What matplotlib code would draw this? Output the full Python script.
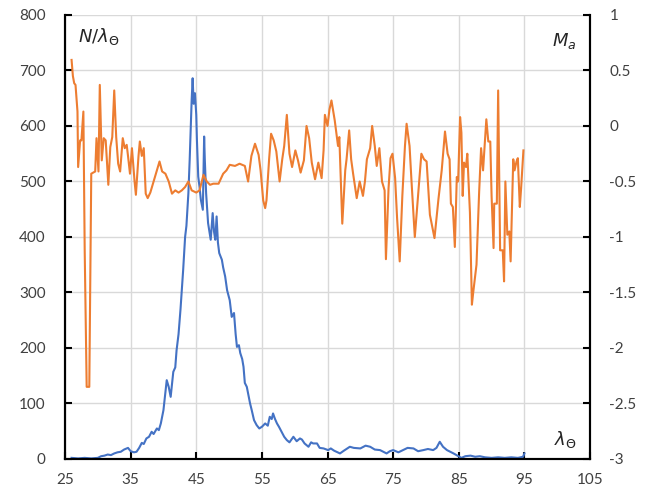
import matplotlib
matplotlib.use('Agg')
import matplotlib.pyplot as plt

plt.rcParams['font.family'] = ['Lato', 'DejaVu Sans']
plt.rcParams['mathtext.fontset'] = 'custom'
plt.rcParams['mathtext.it'] = 'DejaVu Sans:italic'
plt.rcParams['mathtext.rm'] = 'DejaVu Sans'

# N/lambda distribution (left axis)
lam_n = [26.0, 27.0, 28.0, 29.0, 30.0, 30.5, 31.0, 31.5, 32.0, 32.5, 33.0, 33.5, 34.0, 34.6, 35.0,
         35.5, 35.9, 36.3, 36.7, 37.0, 37.4, 37.8, 38.2, 38.5, 39.0, 39.3, 39.6, 40.0, 40.3, 40.5,
         40.8, 41.1, 41.3, 41.5, 41.8, 42.0, 42.3, 42.6, 42.8, 43.0, 43.3, 43.5, 43.8, 44.0, 44.3,
         44.45, 44.6, 44.8, 45.0, 45.1, 45.3, 45.5, 45.7, 46.0, 46.2, 46.3, 46.5, 46.8, 47.0, 47.2,
         47.5, 47.7, 47.9, 48.1, 48.3, 48.5, 48.9, 49.1, 49.4, 49.7, 50.1, 50.4, 50.75, 51.0, 51.2,
         51.5, 51.7, 52.0, 52.2, 52.4, 52.7, 52.9, 53.2, 53.45, 53.8, 54.2, 54.6, 55.0, 55.5, 55.9,
         56.2, 56.5, 56.7, 57.0, 57.3, 57.6, 58.0, 58.4, 58.8, 59.2, 59.8, 60.3, 60.8, 61.1, 61.5,
         62.1, 62.5, 62.8, 63.4, 63.8, 64.4, 65.1, 65.5, 66.0, 66.9, 67.5, 68.4, 69.0, 70.0, 70.8,
         71.5, 72.2, 73.0, 74.0, 74.5, 75.0, 75.8, 76.5, 77.2, 78.1, 78.8, 79.6, 80.3, 81.1, 81.6,
         82.1, 82.6, 83.2, 84.2, 84.8, 85.4, 86.0, 86.8, 87.5, 88.2, 89.0, 90.0, 91.0, 92.0, 93.0,
         94.0, 94.8, 95.0]
n_vals = [2, 1, 2, 1, 2, 5, 6, 8, 7, 10, 12, 13, 17, 20, 14,
          12, 13, 20, 29, 27, 37, 40, 49, 45, 55, 52, 64, 88, 120, 142,
          130, 112, 135, 157, 165, 196, 225, 270, 304, 340, 400, 420, 479, 540, 647,
          686, 640, 659, 620, 575, 509, 490, 467, 449, 581, 540, 479, 425, 410, 395,
          443, 410, 395, 437, 390, 371, 359, 345, 329, 304, 286, 256, 263, 225, 202,
          205, 191, 180, 166, 137, 130, 118, 100, 88, 70, 61, 55, 58, 64, 60,
          76, 72, 82, 72, 64, 58, 49, 40, 34, 30, 40, 32, 37, 35, 28,
          22, 30, 28, 28, 20, 19, 16, 19, 15, 10, 15, 22, 20, 19, 24,
          22, 17, 16, 10, 14, 16, 12, 16, 20, 19, 14, 16, 18, 16, 20,
          31, 22, 16, 10, 6, 2, 5, 6, 4, 5, 3, 2, 3, 2, 3,
          2, 4, 10]

# M_a (right axis)
lam_m = [26.0, 26.2, 26.4, 26.6, 26.9, 27.0, 27.3, 27.5, 27.8, 28.0, 28.3, 28.7, 29.0, 29.6, 29.8,
         30.1, 30.3, 30.6, 30.9, 31.2, 31.6, 31.9, 32.2, 32.5, 32.8, 33.1, 33.4, 33.8, 34.1, 34.4,
         34.6, 34.9, 35.2, 35.6, 35.8, 36.2, 36.4, 36.7, 37.0, 37.3, 37.6, 38.0, 38.5, 39.0, 39.4,
         39.8, 40.3, 40.8, 41.3, 41.8, 42.3, 42.8, 43.3, 43.8, 44.3, 45.0, 45.5, 46.1, 46.6, 47.1,
         47.6, 48.4, 49.1, 49.6, 50.1, 50.9, 51.6, 52.4, 52.9, 53.4, 53.95, 54.5, 54.8, 55.2, 55.5,
         55.7, 56.1, 56.4, 56.8, 57.2, 57.7, 58.1, 58.4, 58.8, 59.2, 59.6, 60.1, 60.5, 60.9, 61.4,
         61.8, 62.2, 62.6, 63.1, 63.6, 64.1, 64.4, 64.6, 65.0, 65.3, 65.6, 66.1, 66.6, 66.8, 67.25,
         67.7, 67.9, 68.3, 68.6, 68.9, 69.45, 69.9, 70.4, 70.7, 71.0, 71.5, 71.8, 72.2, 72.5, 72.9,
         73.3, 73.7, 73.9, 74.3, 74.6, 74.9, 75.3, 75.6, 76.0, 76.4, 76.8, 77.05, 77.5, 77.8, 78.3,
         78.8, 79.3, 79.7, 80.1, 80.6, 81.3, 81.9, 82.4, 82.9, 83.3, 83.6, 83.8, 84.1, 84.4, 84.7,
         84.9, 85.2, 85.4, 85.6, 85.8, 86.1, 86.3, 86.7, 87.0, 87.2, 87.7, 88.1, 88.4, 88.7, 89.2,
         89.5, 89.8, 90.0, 90.3, 90.4, 90.8, 91.0, 91.3, 91.7, 91.9, 92.1, 92.4, 92.7, 92.9, 93.0,
         93.3, 93.5, 93.8, 94.0, 94.3, 94.5, 94.85]
m_vals = [0.595, 0.45, 0.385, 0.37, 0.13, -0.37, -0.13, -0.13, 0.13, -1.12, -2.35, -2.35, -0.43, -0.41, -0.11,
          -0.41, 0.37, -0.31, -0.11, -0.13, -0.53, -0.19, -0.1, 0.32, -0.1, -0.34, -0.41, -0.11, -0.2, -0.17,
          -0.27, -0.43, -0.2, -0.5, -0.62, -0.27, -0.14, -0.27, -0.2, -0.61, -0.65, -0.6, -0.5, -0.4, -0.32,
          -0.41, -0.43, -0.5, -0.61, -0.58, -0.6, -0.58, -0.55, -0.5, -0.58, -0.6, -0.58, -0.44, -0.5, -0.53,
          -0.52, -0.52, -0.43, -0.4, -0.35, -0.36, -0.34, -0.36, -0.5, -0.27, -0.16, -0.26, -0.4, -0.67, -0.74,
          -0.67, -0.3, -0.07, -0.13, -0.23, -0.5, -0.3, -0.18, 0.1, -0.25, -0.37, -0.22, -0.31, -0.42, -0.31,
          0.0, -0.11, -0.33, -0.48, -0.33, -0.47, -0.22, 0.1, 0.0, 0.15, 0.23, 0.05, -0.18, -0.1, -0.88,
          -0.4, -0.3, -0.04, -0.3, -0.43, -0.65, -0.5, -0.63, -0.5, -0.3, -0.2, 0.0, -0.18, -0.36, -0.2,
          -0.5, -0.58, -1.2, -0.56, -0.29, -0.25, -0.47, -0.83, -1.22, -0.63, -0.18, 0.02, -0.18, -0.5, -1.0,
          -0.63, -0.25, -0.3, -0.32, -0.8, -1.01, -0.66, -0.4, -0.05, -0.25, -0.3, -0.7, -0.73, -1.09, -0.46,
          -0.5, 0.08, -0.06, -0.63, -0.33, -0.37, -0.25, -0.78, -1.61, -1.5, -1.25, -0.6, -0.2, -0.4, 0.06,
          -0.14, -0.14, -0.63, -1.1, -0.7, -0.7, 0.32, -1.12, -1.12, -1.4, -0.5, -0.98, -0.95, -1.22, -0.98,
          -0.3, -0.4, -0.32, -0.29, -0.73, -0.56, -0.22]

x_ticks = [25, 35, 45, 55, 65, 75, 85, 95, 105]
y_left_ticks = [0, 100, 200, 300, 400, 500, 600, 700, 800]
y_right_ticks = [-3, -2.5, -2, -1.5, -1, -0.5, 0, 0.5, 1]
y_right_labels = ['-3', '-2.5', '-2', '-1.5', '-1', '-0.5', '0', '0.5', '1']

blue = '#4472C4'
orange = '#ED7D31'

fig = plt.figure(figsize=(6.58, 4.99), dpi=100)
ax = fig.add_axes([0.0988, 0.0802, 0.7979, 0.8898])
ax2 = ax.twinx()

ax.plot(lam_n, n_vals, color=blue, lw=1.5)
ax2.plot(lam_m, m_vals, color=orange, lw=1.5)

ax.set_xlim(25, 105)
ax.set_ylim(0, 800)
ax2.set_ylim(-3, 1)
ax.set_xticks(x_ticks)
ax.set_yticks(y_left_ticks)
ax2.set_yticks(y_right_ticks)
ax2.set_yticklabels(y_right_labels)

ax.grid(True, color='#D9D9D9', lw=1.0)
ax.set_axisbelow(True)

for a in (ax, ax2):
    a.spines['top'].set_visible(False)
    for s in ('left', 'right', 'bottom'):
        a.spines[s].set_linewidth(1.5)
        a.spines[s].set_color('black')
    a.tick_params(direction='in', length=5, width=1.5, labelsize=11, colors='black',
                  labelcolor='#404040')
ax.tick_params(axis='y', pad=14)
ax.tick_params(axis='x', pad=10)
ax2.tick_params(axis='y', pad=14)

ax.text(0.025, 0.975, r'$N/\lambda_{\mathit{\Theta}}$', transform=ax.transAxes,
        fontsize=13, ha='left', va='top', color='#262626')
ax.text(0.975, 0.965, r'$M_a$', transform=ax.transAxes,
        fontsize=13, ha='right', va='top', color='#262626')
ax.text(0.975, 0.02, r'$\lambda_{\mathit{\Theta}}$', transform=ax.transAxes,
        fontsize=13, ha='right', va='bottom', color='#262626')

fig.savefig('out.png', dpi=100)
